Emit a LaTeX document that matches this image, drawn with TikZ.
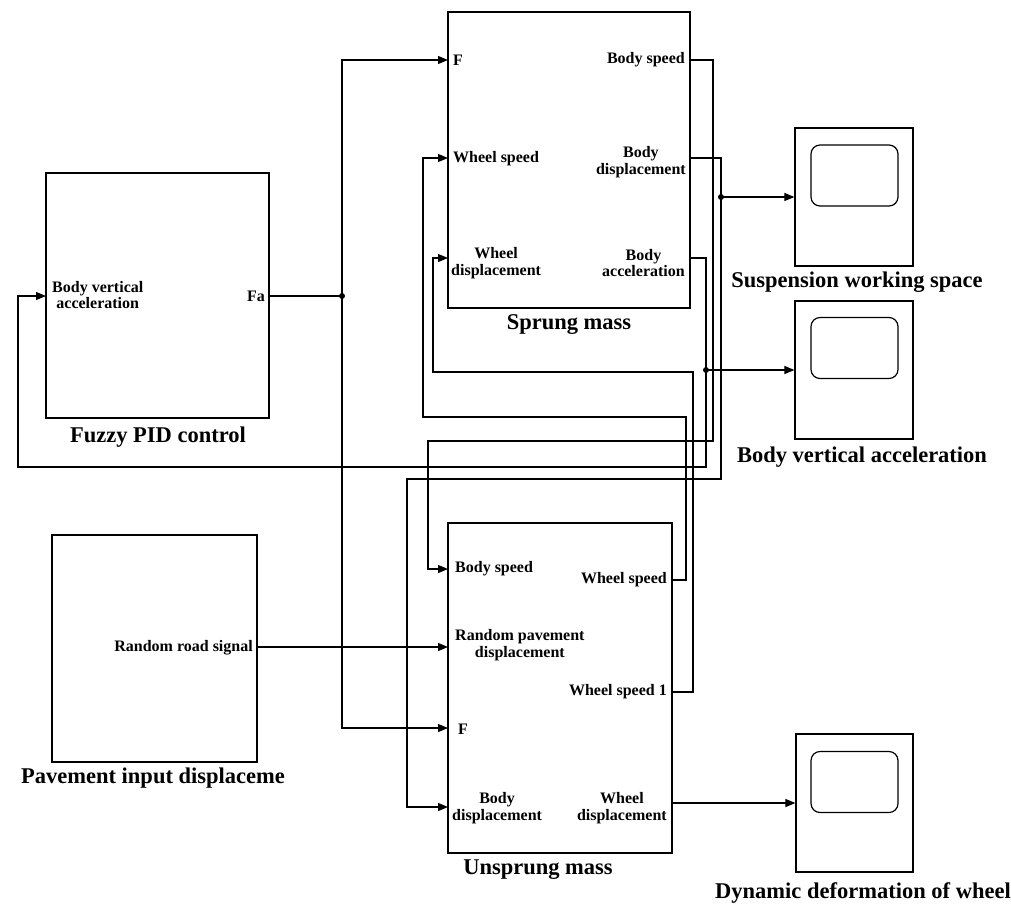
\documentclass[tikz,border=0pt]{standalone}
\usepackage{fontspec}
\setmainfont{Liberation Serif}
\usetikzlibrary{arrows.meta}
\begin{document}
\begin{tikzpicture}[x=1pt,y=-1pt,
  blk/.style={draw, line width=1.2pt, inner sep=0},
  inner/.style={draw, line width=1.2pt, rounded corners=9pt, inner sep=0, minimum width=87pt, minimum height=61pt},
  wire/.style={line width=1.1pt},
  arr/.style={wire, -{Triangle[length=10pt,width=8pt]}},
  port/.style={font=\fontsize{16}{16.5}\selectfont\bfseries, inner sep=0, align=center},
  title/.style={font=\fontsize{22.5}{24}\selectfont\bfseries, inner sep=0},
  jdot/.style={circle, fill, inner sep=0, minimum size=6pt}]
\useasboundingbox (0,0) rectangle (1011,906);

% blocks
\node[blk, minimum width=242pt, minimum height=296pt] (sprung) at (569,160) {};
\node[blk, minimum width=224pt, minimum height=330pt] (unsprung) at (560,688) {};
\node[blk, minimum width=223pt, minimum height=245pt] (fuzzy) at (157.5,295.5) {};
\node[blk, minimum width=205pt, minimum height=227pt] (pave) at (154.5,648.5) {};
\node[blk, minimum width=118pt, minimum height=138pt] (sc1) at (854,197) {};
\node[inner] (sc1in) at (854.5,175.5) {};
\node[blk, minimum width=118pt, minimum height=138pt] (sc2) at (854,370) {};
\node[inner] (sc2in) at (854.5,348) {};
\node[blk, minimum width=117pt, minimum height=138pt] (sc3) at (854.5,803) {};
\node[inner] (sc3in) at (854.5,782) {};

% titles
\node[title] (tsprung) at (569,325) {Sprung mass};
\node[title] (tunspr) at (538,870) {Unsprung mass};
\node[title] (tfuzzy) at (158,437) {Fuzzy PID control};
\node[title] (tpave) at (153,778) {Pavement input displaceme};
\node[title] (tsc1) at (857,282) {Suspension working space};
\node[title] (tsc2) at (862,457) {Body vertical acceleration};
\node[title] (tsc3) at (863,893) {Dynamic deformation of wheel};

% port labels - sprung
\node[port, anchor=west] (lsF) at (453,60) {F};
\node[port, anchor=east] (lsBS) at (685,60) {Body speed};
\node[port, anchor=west] (lsWS) at (453,159) {Wheel speed};
\node[port, anchor=east] (lsBD) at (686,162) {Body\\displacement};
\node[port, anchor=west] (lsWD) at (451,263) {Wheel\\displacement};
\node[port, anchor=east] (lsBA) at (685,263) {Body\\acceleration};
% port labels - unsprung
\node[port, anchor=west] (luBS) at (455,569) {Body speed};
\node[port, anchor=east] (luWS) at (667,580) {Wheel speed};
\node[port, anchor=west] (luRP) at (455,645) {Random pavement\\displacement};
\node[port, anchor=east] (luWS1) at (667,692) {Wheel speed 1};
\node[port, anchor=west] (luF) at (458,729) {F};
\node[port, anchor=west] (luBD) at (452,808) {Body\\displacement};
\node[port, anchor=east] (luWD) at (667,808) {Wheel\\displacement};
% other ports
\node[port, anchor=west] (lfIn) at (52,295) {Body vertical\\acceleration};
\node[port, anchor=east] (lfFa) at (265,296) {Fa};
\node[port, anchor=east] (lpOut) at (253,648) {Random road signal};

% port coordinates
\coordinate (sF) at (448,60);
\coordinate (sBS) at (690,60);
\coordinate (sWS) at (448,158);
\coordinate (sBD) at (690,158);
\coordinate (sWD) at (448,258);
\coordinate (sBA) at (690,258);
\coordinate (uBS) at (448,569);
\coordinate (uWS) at (672,580);
\coordinate (uRP) at (448,647);
\coordinate (uWS1) at (672,692);
\coordinate (uF) at (448,728);
\coordinate (uBD) at (448,807);
\coordinate (uWD) at (672,803);
\coordinate (fIn) at (46,296);
\coordinate (fFa) at (269,296);
\coordinate (pOut) at (257,647);

% junctions
\node[jdot] (j1) at (342,296) {};
\node[jdot] (j2) at (721,197) {};
\node[jdot] (j3) at (706,370) {};

% wires
\draw[wire] (fFa) -- (j1.center);
\draw[arr] (j1.center) -- (342,60) -- (sF);
\draw[arr] (j1.center) -- (342,728) -- (uF);
\draw[arr] (sBS) -- (713,60) -- (713,441) -- (428,441) -- (428,569) -- (uBS);
\draw[arr] (sBD) -- (721,158) -- (721,479) -- (407,479) -- (407,807) -- (uBD);
\draw[arr] (j2.center) -- (sc1.west);
\draw[arr] (sBA) -- (706,258) -- (706,467) -- (18,467) -- (18,296) -- (fIn);
\draw[arr] (j3.center) -- (sc2.west);
\draw[arr] (uWS) -- (686,580) -- (686,417) -- (423,417) -- (423,158) -- (sWS);
\draw[arr] (uWS1) -- (693,692) -- (693,372) -- (433,372) -- (433,258) -- (sWD);
\draw[arr] (uWD) -- (sc3.west);
\draw[arr] (pOut) -- (uRP);
\end{tikzpicture}
\end{document}
